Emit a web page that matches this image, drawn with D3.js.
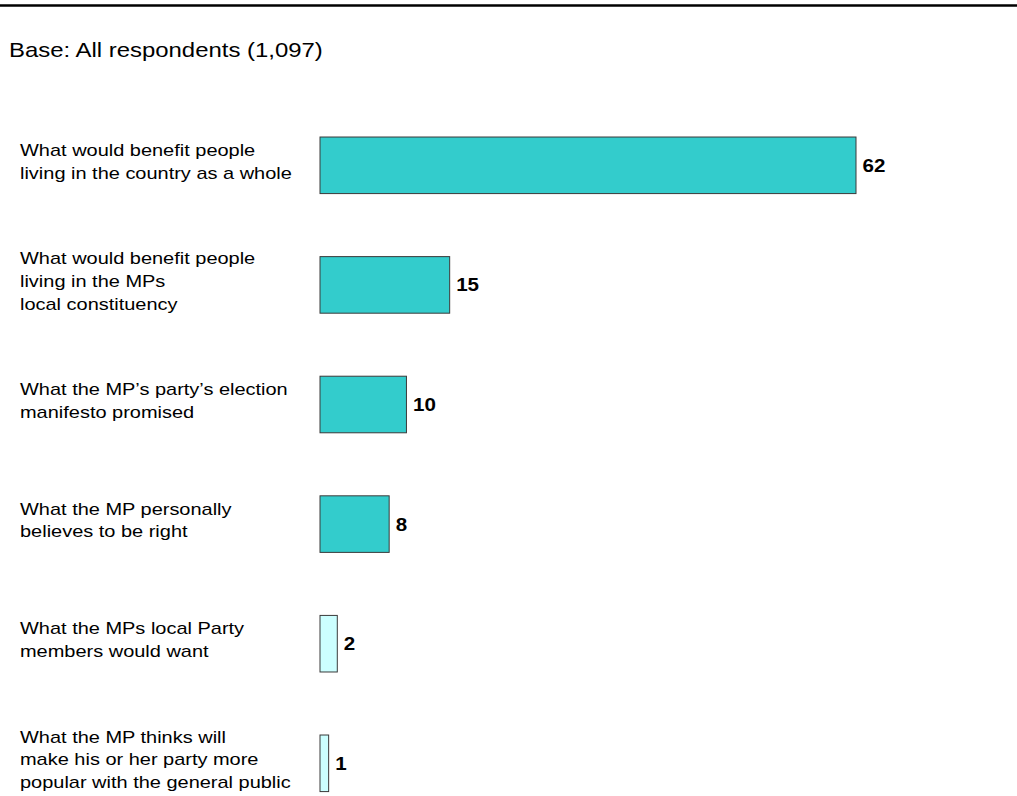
<!DOCTYPE html>
<html>
<head>
<meta charset="utf-8">
<script src="https://cdn.jsdelivr.net/npm/d3@7"></script>
<style>
  html, body { margin: 0; padding: 0; background: #ffffff; }
  svg { display: block; }
  text { font-family: "Liberation Sans", Arial, sans-serif; fill: #000; }
</style>
</head>
<body>
<svg id="chart" width="1017" height="796"></svg>
<script>
// Survey answers: what MPs should consider when deciding how to vote
const baseLabel = "Base: All respondents (1,097)";

const categories = [
  ["What would benefit people", "living in the country as a whole"],
  ["What would benefit people", "living in the MPs", "local constituency"],
  ["What the MP\u2019s party\u2019s election", "manifesto promised"],
  ["What the MP personally", "believes to be right"],
  ["What the MPs local Party", "members would want"],
  ["What the MP thinks will", "make his or her party more", "popular with the general public"]
];

const values = [62, 15, 10, 8, 2, 1];

const W = 1017, H = 796;
const svg = d3.select("#chart");

// the slide's type is set slightly wide
const stretch = 1.175;

// rule across the top of the slide
svg.append("line")
  .attr("x1", 0).attr("x2", W)
  .attr("y1", 5.5).attr("y2", 5.5)
  .attr("stroke", "#000").attr("stroke-width", 2.5);

svg.append("text")
  .attr("transform", `translate(9,57) scale(${stretch - 0.007},1)`)
  .style("font-size", "20.5px")
  .text(baseLabel);

const idx = d3.range(values.length);

const y = d3.scaleBand()
  .domain(idx)
  .range([105.5, 823.1])
  .paddingInner(0.527)
  .paddingOuter(0.2635);

const x = d3.scaleLinear()
  .domain([0, d3.max(values)])
  .range([320, 856]);

const colorFor = v => v >= 5 ? "#33CCCC" : "#CCFFFF";

// bars
svg.append("g").selectAll("rect")
  .data(idx)
  .join("rect")
  .attr("x", x(0))
  .attr("y", i => y(i))
  .attr("width", i => x(values[i]) - x(0))
  .attr("height", y.bandwidth())
  .attr("fill", i => colorFor(values[i]))
  .attr("stroke", "#3a3a3a")
  .attr("stroke-width", 1);

// value labels
svg.append("g").selectAll("text")
  .data(idx)
  .join("text")
  .attr("transform", i => `translate(${x(values[i]) + 6.5},${y(i) + y.bandwidth() / 2 + 6.5}) scale(${stretch},1)`)
  .style("font-size", "17.5px")
  .style("font-weight", "bold")
  .text(i => values[i]);

// category labels, multi-line, centred beside each bar
const lineH = 22.8;
const lbl = svg.append("g").selectAll("text")
  .data(idx)
  .join("text")
  .style("font-size", "17px")
  .attr("transform", i => {
    const top = y(i) + y.bandwidth() / 2 - (categories[i].length - 1) * lineH / 2 + 2;
    return `translate(20,${top}) scale(${stretch},1)`;
  });

lbl.selectAll("tspan")
  .data(i => categories[i])
  .join("tspan")
  .attr("x", 0)
  .attr("dy", (d, j) => j === 0 ? 0 : lineH)
  .text(d => d);
</script>
</body>
</html>
